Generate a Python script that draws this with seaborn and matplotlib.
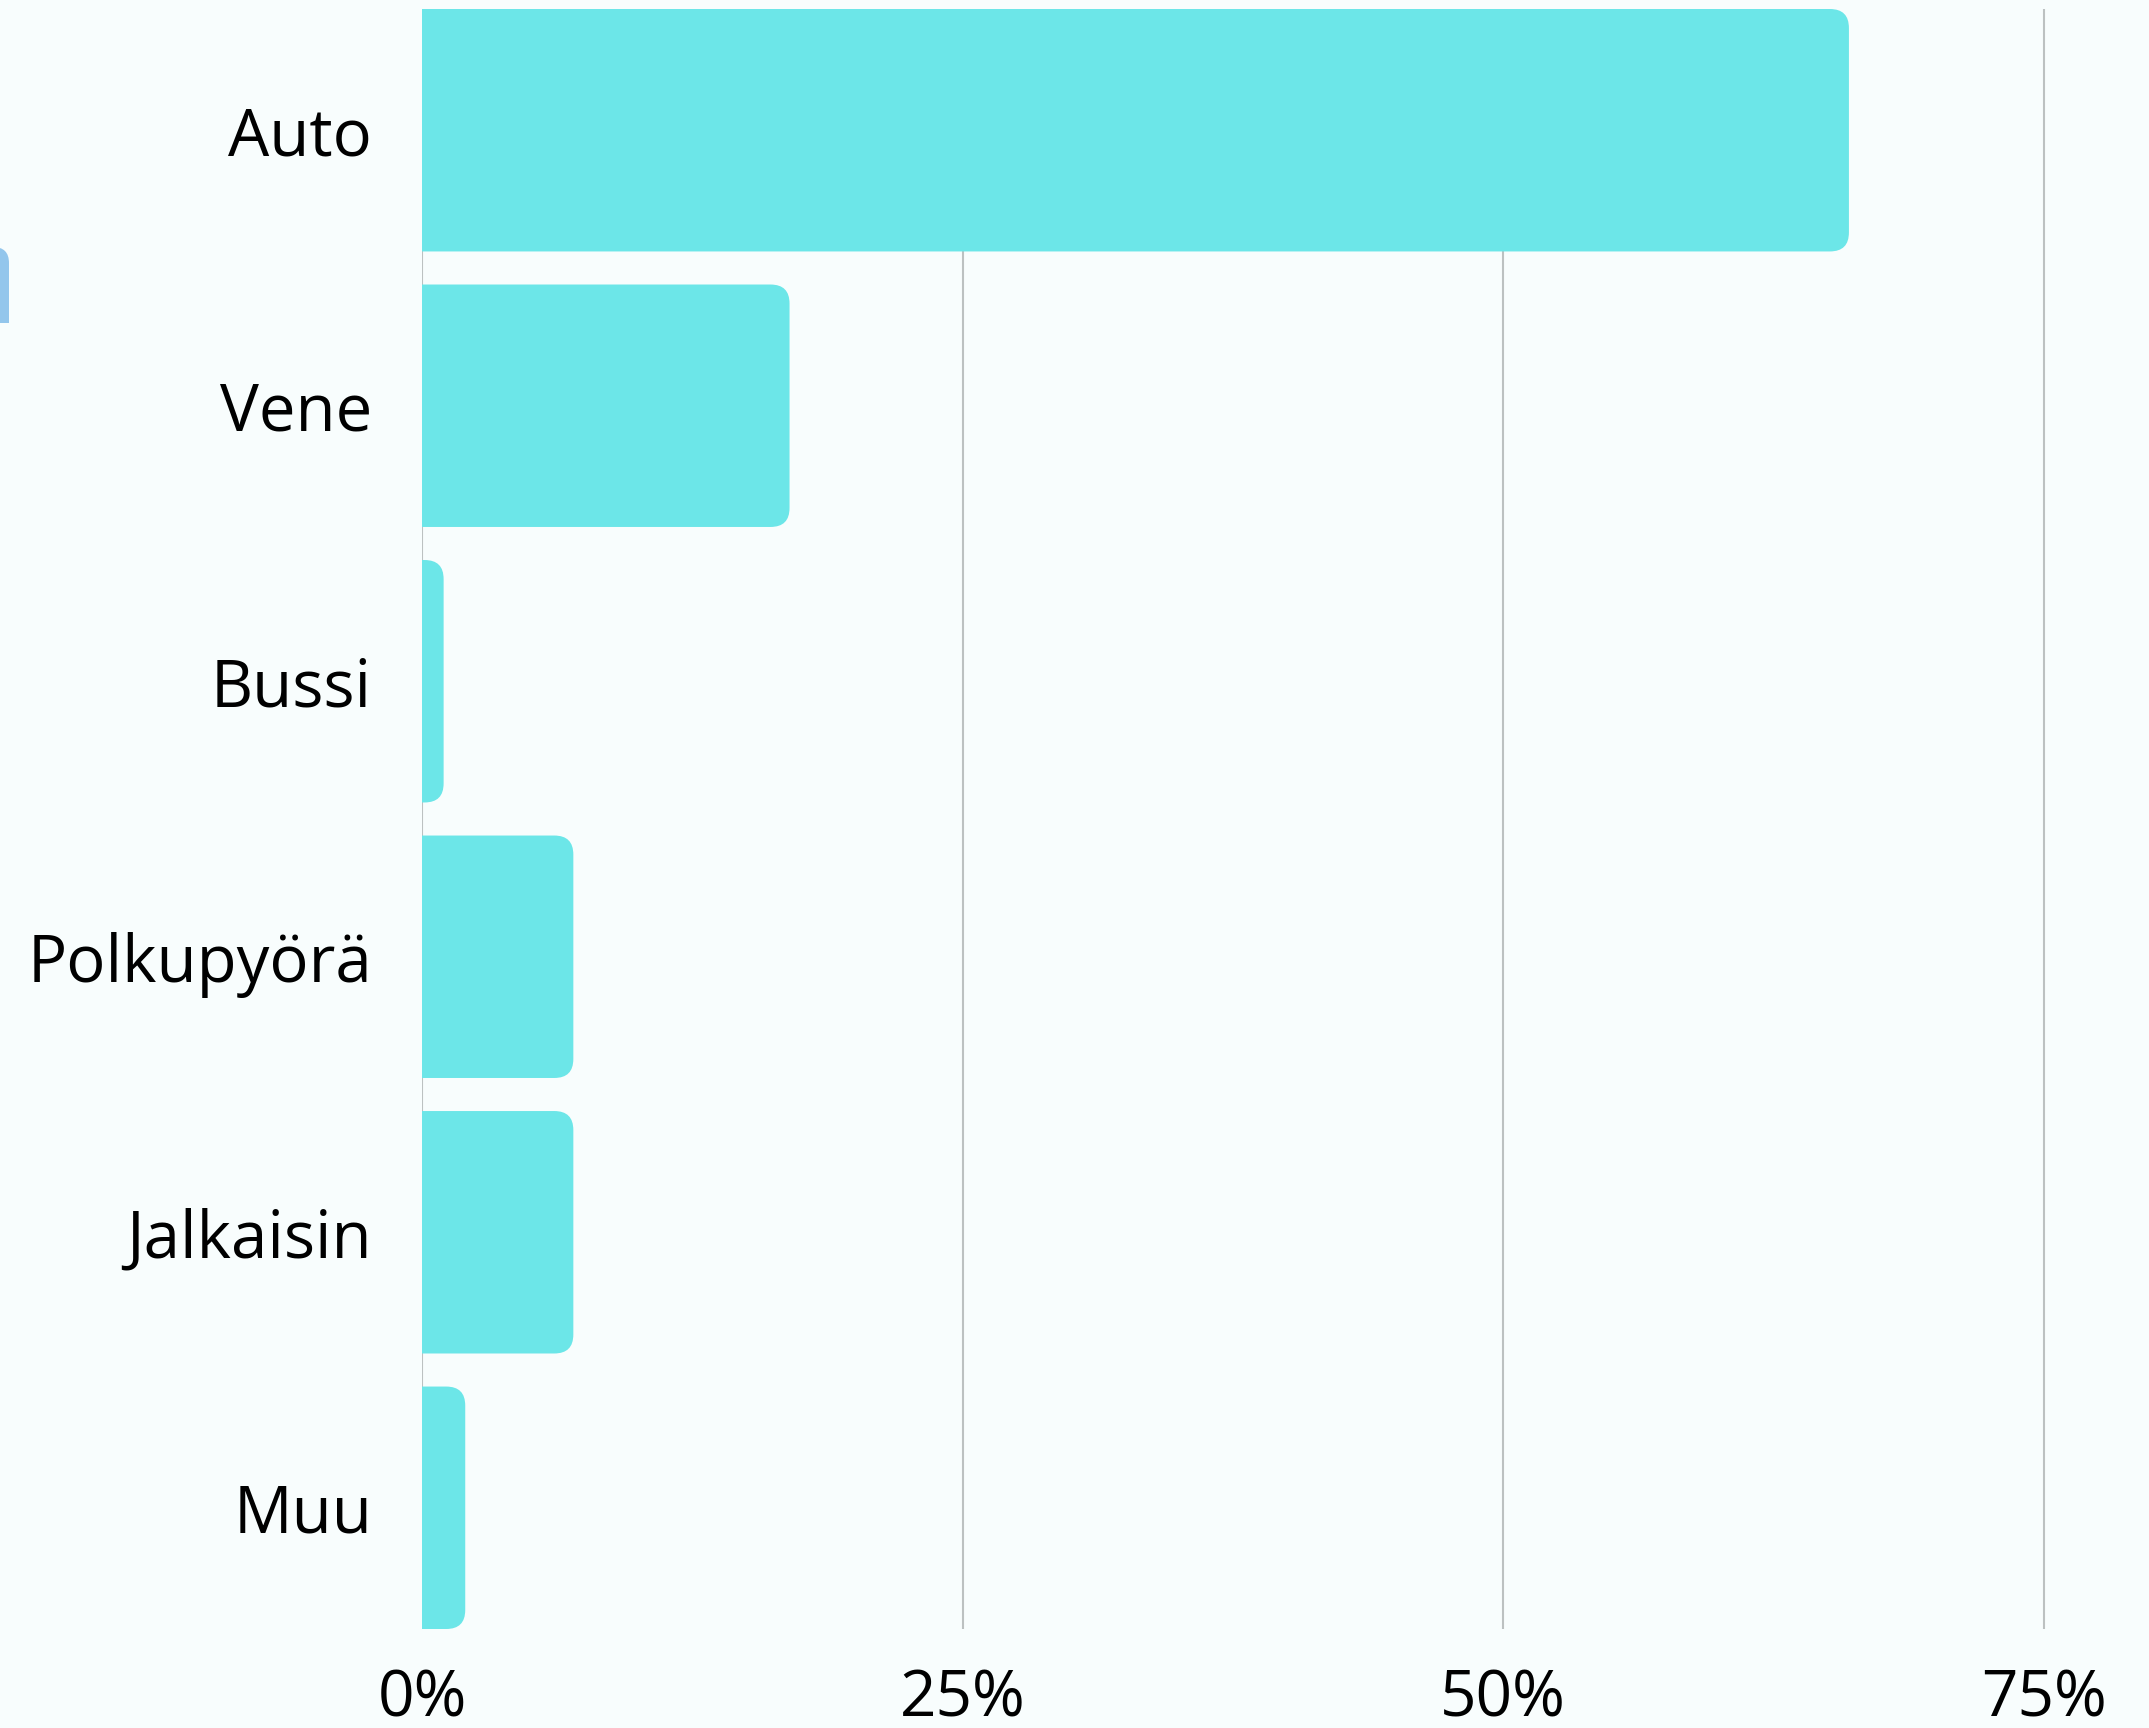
import pandas as pd
import matplotlib
matplotlib.use('Agg')
import matplotlib.pyplot as plt
import seaborn as sns
from matplotlib.patches import FancyBboxPatch, Rectangle
from matplotlib.ticker import FuncFormatter

# data (share of answers, %)
categories = ['Auto', 'Vene', 'Bussi', 'Polkupyörä', 'Jalkaisin', 'Muu']
shares = [66, 17, 1, 7, 7, 2]
xticks = [0, 25, 50, 75]

bg = '#f8fdfd'
bar_color = '#6ce6e8'
grid_color = '#bcc1c1'

sns.set_style('white')
plt.rcParams['font.family'] = ['Open Sans', 'DejaVu Sans']

W, H = 2149, 1728
fig = plt.figure(figsize=(W / 100, H / 100), dpi=100, facecolor=bg)

# axes placed in pixels: x=0 at 422px, 1% = 21.62px, top 9px, bottom 1629px
px_per_pct = 21.62
x0, xmax = 422, 75.5
ax = fig.add_axes([x0 / W, (H - 1629) / H, xmax * px_per_pct / W, 1620 / H])
ax.set_facecolor(bg)

df = pd.DataFrame({'kulku': categories, 'osuus': shares})
sns.barplot(data=df, y='kulku', x='osuus', orient='h', color=bar_color,
            width=0.88, saturation=1, ax=ax, zorder=2)

ax.set_xlim(0, xmax)
ax.set_ylim(len(categories) - 1 + 0.44, -0.44)

# rounded right ends
px_per_cat = 1620 / (len(categories) - 1 + 0.88)
aspect = px_per_pct / px_per_cat
r_px = 19
for p in list(ax.patches):
    x, y, w, h = p.get_x(), p.get_y(), p.get_width(), p.get_height()
    p.remove()
    r = r_px / px_per_pct
    fb = FancyBboxPatch((x - 2 * r, y), w + 2 * r, h,
                        boxstyle=f'round,pad=0,rounding_size={r}',
                        mutation_aspect=aspect, fc=bar_color, ec='none',
                        zorder=2)
    ax.add_patch(fb)

ax.set_xticks(xticks)
ax.xaxis.set_major_formatter(FuncFormatter(lambda v, _: f'{v:.0f}%'))
ax.grid(axis='x', color=grid_color, linewidth=1.5, zorder=0)
ax.set_axisbelow(True)
for s in ax.spines.values():
    s.set_visible(False)
ax.tick_params(axis='x', length=0, pad=28, labelsize=46, labelcolor='black')
ax.tick_params(axis='y', length=0, pad=36, labelsize=47, labelcolor='black')
ax.set_xlabel('')
ax.set_ylabel('')

# small cut-off shape on the left edge
fig.patches.append(FancyBboxPatch((-25, H - 323), 34, 76,
                                  boxstyle='round,pad=0,rounding_size=16',
                                  fc='#93c6ec', ec='none', transform=None,
                                  figure=fig))
fig.patches.append(Rectangle((0, H - 323), 9, 20, fc='#93c6ec', ec='none',
                             transform=None, figure=fig))

fig.savefig('out.png', dpi=100, facecolor=bg)
